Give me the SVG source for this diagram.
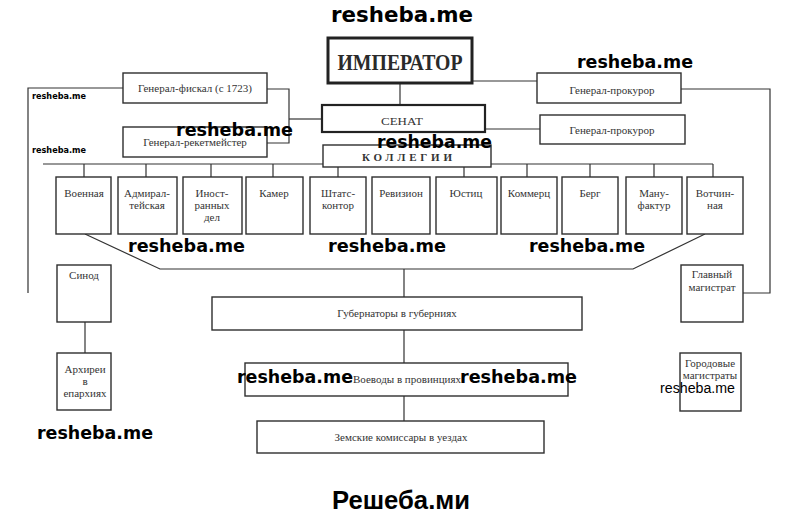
<svg xmlns="http://www.w3.org/2000/svg" width="800" height="514" viewBox="0 0 800 514">
<style>
.box{fill:#fff;stroke:#2e2e2e;stroke-width:1.4}
.ln{stroke:#333;stroke-width:1.2;fill:none}
.t{font-family:"Liberation Serif","Times New Roman",serif;font-size:11px;fill:#333;text-anchor:middle}
.wm{font-family:"DejaVu Sans",Verdana,sans-serif;font-weight:bold;fill:#000}
</style>
<rect width="800" height="514" fill="#fff"/>
<g id="connectors">
<path class="ln" d="M400 84V105"/>
<path class="ln" d="M472 81H537"/>
<path class="ln" d="M681 89H770V293H743"/>
<path class="ln" d="M485 129H540"/>
<path class="ln" d="M123 88H28V293"/>
<path class="ln" d="M267 89H289V143H267"/>
<path class="ln" d="M289 119H321"/>
<path class="ln" d="M43 164H713"/>
<path class="ln" d="M84 164V177M146 164V177M211 164V177M273 164V177M338 164V177M464 164V177M527 164V177M590 164V177M654 164V177M713 164V177"/>
<path class="ln" d="M85 234L160 269H633L705 234"/>
<path class="ln" d="M404 269V297M404 330V363M404 396V421"/>
<path class="ln" d="M85 322V353"/>
</g>
<g id="emperor"><rect x="328" y="38" width="144" height="45" fill="#fff" stroke="#222" stroke-width="3"/><text x="400" y="70" font-family="'Liberation Serif',serif" font-weight="bold" font-size="23" fill="#2a2a2a" text-anchor="middle" textLength="125" lengthAdjust="spacingAndGlyphs">ИМПЕРАТОР</text></g>
<g id="senate"><rect x="322" y="105" width="163" height="27" fill="#fff" stroke="#222" stroke-width="2.2"/><text x="402" y="125" class="t" font-size="14" textLength="42" lengthAdjust="spacingAndGlyphs">СЕНАТ</text></g>
<g id="collegia"><rect class="box" x="323" y="145" width="168" height="22"/><text x="407" y="161" class="t" font-size="13.5" font-weight="bold" fill="#222" textLength="90" lengthAdjust="spacing">КОЛЛЕГИИ</text></g>
<g id="fiscal"><rect class="box" x="123" y="73" width="144" height="30"/><text x="195" y="92" class="t">Генерал-фискал (с 1723)</text></g>
<g id="reket"><rect class="box" x="123" y="127" width="144" height="30"/><text x="195" y="146" class="t">Генерал-рекетмейстер</text></g>
<g id="prok1"><rect class="box" x="537" y="73" width="144" height="30"/><text x="612" y="94" class="t">Генерал-прокурор</text></g>
<g id="prok2"><rect class="box" x="540" y="115" width="145" height="29"/><text x="612" y="134" class="t">Генерал-прокурор</text></g>
<g id="voennaya"><rect class="box" x="56" y="177" width="55" height="57"/><text x="84" y="197" class="t">Военная</text></g>
<g id="admiral"><rect class="box" x="118" y="177" width="59" height="57"/><text x="147" y="197" class="t">Адмирал-</text><text x="147" y="209" class="t">тейская</text></g>
<g id="inostr"><rect class="box" x="183" y="177" width="59" height="57"/><text x="212" y="197" class="t">Иност-</text><text x="212" y="209" class="t">ранных</text><text x="212" y="221" class="t">дел</text></g>
<g id="kamer"><rect class="box" x="246" y="177" width="57" height="57"/><text x="274" y="197" class="t">Камер</text></g>
<g id="shtats"><rect class="box" x="310" y="177" width="56" height="57"/><text x="338" y="197" class="t">Штатс-</text><text x="338" y="209" class="t">контор</text></g>
<g id="reviz"><rect class="box" x="372" y="177" width="58" height="57"/><text x="401" y="197" class="t">Ревизион</text></g>
<g id="yustits"><rect class="box" x="436" y="177" width="61" height="57"/><text x="466" y="197" class="t">Юстиц</text></g>
<g id="kommerts"><rect class="box" x="501" y="177" width="56" height="57"/><text x="529" y="197" class="t">Коммерц</text></g>
<g id="berg"><rect class="box" x="562" y="177" width="56" height="57"/><text x="590" y="197" class="t">Берг</text></g>
<g id="manuf"><rect class="box" x="626" y="177" width="56" height="57"/><text x="654" y="197" class="t">Ману-</text><text x="654" y="209" class="t">фактур</text></g>
<g id="votchin"><rect class="box" x="687" y="177" width="56" height="57"/><text x="715" y="197" class="t">Вотчин-</text><text x="715" y="209" class="t">ная</text></g>
<g id="sinod"><rect class="box" x="57" y="265" width="54" height="57"/><text x="84" y="279" class="t">Синод</text></g>
<g id="arhierei"><rect class="box" x="57" y="353" width="54" height="57"/><text x="85" y="373" class="t">Архиреи</text><text x="85" y="385" class="t">в</text><text x="85" y="397" class="t">епархиях</text></g>
<g id="glavmag"><rect class="box" x="681" y="265" width="62" height="57"/><text x="712" y="278" class="t">Главный</text><text x="712" y="291" class="t">магистрат</text></g>
<g id="gorodmag"><rect class="box" x="680" y="353" width="61" height="58"/><text x="710" y="367" class="t">Городовые</text><text x="710" y="379" class="t">магистраты</text></g>
<g id="gubern"><rect class="box" x="212" y="297" width="370" height="33"/><text x="397" y="317" class="t">Губернаторы в губерниях</text></g>
<g id="voevody"><rect class="box" x="245" y="363" width="323" height="33"/><text x="407" y="383" class="t">Воеводы в провинциях</text></g>
<g id="zemskie"><rect class="box" x="257" y="421" width="287" height="32"/><text x="401" y="441" class="t">Земские комиссары в уездах</text></g>
<g id="watermarks">
<text class="wm" x="331" y="22" font-size="21" textLength="142" lengthAdjust="spacingAndGlyphs">resheba.me</text>
<text class="wm" x="577" y="68" font-size="17.5" textLength="116" lengthAdjust="spacingAndGlyphs">resheba.me</text>
<text class="wm" x="32" y="99" font-size="8.5" textLength="54" lengthAdjust="spacingAndGlyphs">resheba.me</text>
<text class="wm" x="32" y="153" font-size="8.5" textLength="54" lengthAdjust="spacingAndGlyphs">resheba.me</text>
<text class="wm" x="176" y="136" font-size="17.5" textLength="117" lengthAdjust="spacingAndGlyphs">resheba.me</text>
<text class="wm" x="377" y="148" font-size="17.5" textLength="115" lengthAdjust="spacingAndGlyphs">resheba.me</text>
<text class="wm" x="128" y="252" font-size="17.5" textLength="117" lengthAdjust="spacingAndGlyphs">resheba.me</text>
<text class="wm" x="328" y="252" font-size="17.5" textLength="118" lengthAdjust="spacingAndGlyphs">resheba.me</text>
<text class="wm" x="529" y="252" font-size="17.5" textLength="116" lengthAdjust="spacingAndGlyphs">resheba.me</text>
<text class="wm" x="237" y="383" font-size="17.5" textLength="116" lengthAdjust="spacingAndGlyphs">resheba.me</text>
<text class="wm" x="460" y="383" font-size="17.5" textLength="117" lengthAdjust="spacingAndGlyphs">resheba.me</text>
<text x="660" y="393" font-family="'Liberation Sans',Arial,sans-serif" font-size="14" fill="#000" textLength="75" lengthAdjust="spacingAndGlyphs">resheba.me</text>
<text class="wm" x="37" y="439" font-size="17.5" textLength="116" lengthAdjust="spacingAndGlyphs">resheba.me</text>
<text x="332" y="509" font-family="'Liberation Sans',Arial,sans-serif" font-weight="bold" font-size="25" fill="#000" textLength="138" lengthAdjust="spacingAndGlyphs">Решеба.ми</text>
</g>
</svg>
